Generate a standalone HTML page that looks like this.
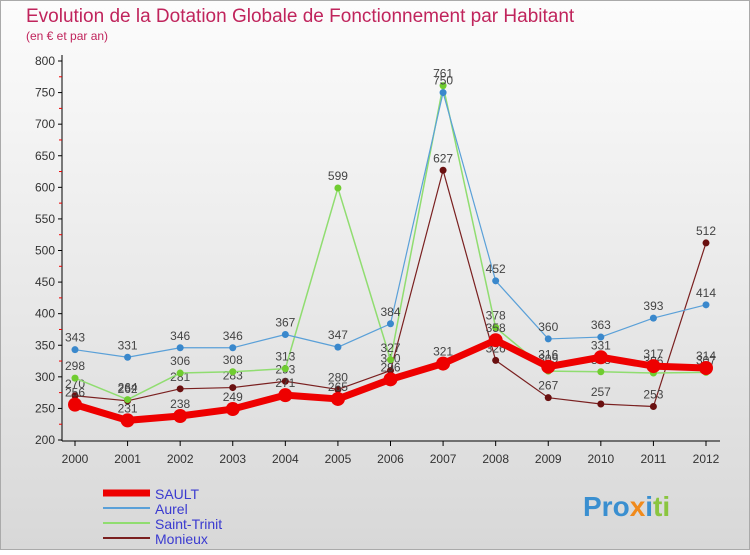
<!DOCTYPE html>
<html><head><meta charset="utf-8"><style>
body{margin:0;width:750px;height:550px;overflow:hidden;font-family:"Liberation Sans",sans-serif}
</style></head><body>
<svg width="750" height="550" xmlns="http://www.w3.org/2000/svg">
<defs><linearGradient id="bg" x1="0" y1="0" x2="0" y2="1"><stop offset="0" stop-color="#fcfcfc"/><stop offset="1" stop-color="#d8d8d8"/></linearGradient></defs>
<rect x="0.5" y="0.5" width="749" height="549" fill="url(#bg)" stroke="#aaa"/>
<text x="26" y="22" font-size="19" fill="#c0245c">Evolution de la Dotation Globale de Fonctionnement par Habitant</text>
<text x="26" y="40" font-size="12" fill="#c0245c">(en € et par an)</text>
<g id="axes"></g><g id="series"></g><g id="legend"></g>
<text x="583" y="516" font-size="28" font-weight="bold" fill="#3a8fd0">Pro<tspan fill="#f08a1c">x</tspan><tspan fill="#3a8fd0">i</tspan><tspan fill="#8ac53f">ti</tspan></text>
</svg>
<script>
const years=["2000","2001","2002","2003","2004","2005","2006","2007","2008","2009","2010","2011","2012"];
const yTicks=[200,250,300,350,400,450,500,550,600,650,700,750,800];
const sault=[256,231,238,249,271,265,296,321,358,316,331,317,314];
const aurel=[343,331,346,346,367,347,384,750,452,360,363,393,414];
const saintTrinit=[298,264,306,308,313,599,327,761,378,309,308,306,307];
const monieux=[270,262,281,283,293,280,310,627,326,267,257,253,512];
const NS="http://www.w3.org/2000/svg";
const X=i=>75+i*(706-75)/(years.length-1);
const Y=v=>440-(v-200)*(440-61)/600;
function mk(tag,attrs,parent){const e=document.createElementNS(NS,tag);for(const k in attrs)e.setAttribute(k,attrs[k]);parent.appendChild(e);return e;}
const ax=document.getElementById('axes');
let l=mk('line',{x1:62,y1:55,x2:62,y2:441,stroke:'#000'},ax);


l=mk('line',{x1:62,y1:441,x2:720,y2:441,stroke:'#000'},ax);


yTicks.forEach((v,i)=>{
 mk('line',{x1:58,y1:Y(v),x2:62,y2:Y(v),stroke:'#000'},ax);
 if(i<yTicks.length-1){mk('line',{x1:59,y1:Y(v+25),x2:62,y2:Y(v+25),stroke:'#e00'},ax);}
 const t=mk('text',{x:55,y:Y(v)+4,'font-size':12,'text-anchor':'end',fill:'#333'},ax);t.textContent=v;
 
 
});
years.forEach((y,i)=>{
 mk('line',{x1:X(i),y1:441,x2:X(i),y2:446,stroke:'#000'},ax);
 const t=mk('text',{x:X(i),y:463,'font-size':12,'text-anchor':'middle',fill:'#333'},ax);t.textContent=y;
 
 
});
const sg=document.getElementById('series');
const defs=[
 {d:monieux,c:'#7a2020',f:'#6a1010',w:1.2,r:3.5,n:'monieux'},
 {d:saintTrinit,c:'#90dd70',f:'#70cc30',w:1.5,r:3.5,n:'saint-trinit'},
 {d:aurel,c:'#5aa0d8',f:'#3a88cc',w:1.2,r:3.5,n:'aurel'},
 {d:sault,c:'#ee0000',f:'#ee0000',w:7,r:7,n:'sault'}];
defs.forEach(s=>{
 const g=mk('g',{},sg);
 
 
 const p=mk('polyline',{points:s.d.map((v,i)=>X(i)+','+Y(v)).join(' '),fill:'none',stroke:s.c,'stroke-width':s.w,'stroke-linejoin':'round'},g);
 
 
 s.d.forEach((v,i)=>{
  const c=mk('circle',{cx:X(i),cy:Y(v),r:s.r,fill:s.f},g);
  
  
  const t=mk('text',{x:X(i),y:Y(v)-8,'font-size':12,'text-anchor':'middle',fill:'#444'},g);t.textContent=v;
  
  
 });
});
const lg=document.getElementById('legend');
const legendNames=["SAULT","Aurel","Saint-Trinit","Monieux"];
const legendColors=['#ee0000','#5aa0d8','#90dd70','#7a2020'];
const legendWidths=[7,2,2,2];
legendNames.forEach((n,i)=>{
 const y=493+i*15;
 const g=mk('g',{},lg);
 
 
 mk('line',{x1:103,y1:y,x2:150,y2:y,stroke:legendColors[i],'stroke-width':legendWidths[i]},g);
 const t=mk('text',{x:155,y:y+6,'font-size':14,fill:'#3a3ad0'},g);t.textContent=n;
});
</script>
</body></html>
